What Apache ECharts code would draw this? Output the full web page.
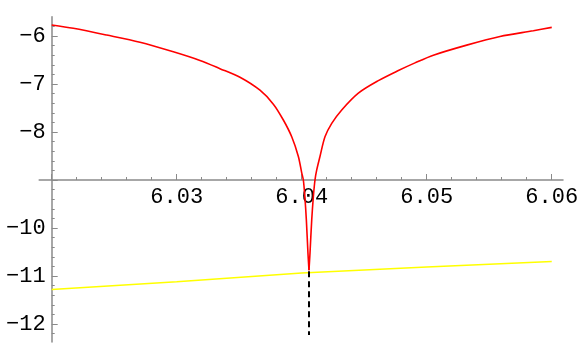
<!DOCTYPE html>
<html>
<head>
<meta charset="utf-8">
<script src="https://cdn.jsdelivr.net/npm/echarts@6/dist/echarts.min.js"></script>
<style>
  html, body { margin: 0; padding: 0; background: #fff; }
  #chart { width: 582px; height: 360px; }
</style>
</head>
<body>
<div id="chart"></div>
<script>
// red curve (left branch down to the dip, right branch up from it)
const redLeftX = [6.02000, 6.02173, 6.02440, 6.02706, 6.02973, 6.03186, 6.03346, 6.03506, 6.03666, 6.03773,
                  6.03853, 6.03920, 6.03973, 6.04000, 6.04013, 6.04025, 6.04037, 6.04050, 6.04058];
const redLeftY = [-5.77, -5.84, -5.98, -6.13, -6.33, -6.51, -6.68, -6.86, -7.13, -7.42,
                  -7.75, -8.10, -8.51, -8.85, -9.00, -9.35, -9.83, -10.53, -10.88];
const redRightX = [6.04058, 6.04066, 6.04080, 6.04093, 6.04106, 6.04120, 6.04146, 6.04186, 6.04240, 6.04320, 6.04453,
                   6.04613, 6.04773, 6.04906, 6.05053, 6.05320, 6.05586, 6.05853, 6.06000];
const redRightY = [-10.88, -10.53, -9.83, -9.35, -9.00, -8.79, -8.51, -8.10, -7.82, -7.54, -7.19,
                   -6.93, -6.72, -6.56, -6.40, -6.19, -6.01, -5.89, -5.82];
// yellow line
const yellowX = [6.02, 6.03, 6.04, 6.05, 6.06];
const yellowY = [-11.28, -11.12, -10.94, -10.81, -10.70];
// black dashed drop line
const dashX = [6.04058, 6.04058];
const dashY = [-10.90, -12.23];

// ticks
const xMajor = [6.02, 6.03, 6.04, 6.05, 6.06];
const xLabels = [6.03, 6.04, 6.05, 6.06];
const xMinor = [6.022, 6.024, 6.026, 6.028, 6.032, 6.034, 6.036, 6.038, 6.042, 6.044, 6.046, 6.048,
                6.052, 6.054, 6.056, 6.058];
const yMajor = [-6, -7, -8, -9, -10, -11, -12];
const yLabels = [-6, -7, -8, -10, -11, -12];
const yMinor = [-5.8, -6.2, -6.4, -6.6, -6.8, -7.2, -7.4, -7.6, -7.8, -8.2, -8.4, -8.6, -8.8,
                -9.2, -9.4, -9.6, -9.8, -10.2, -10.4, -10.6, -10.8, -11.2, -11.4, -11.6, -11.8, -12.2];

const pair = (xs, ys) => xs.map((x, i) => [x, ys[i]]);
const axisGray = '#8a8a8a';
const labelFont = { fontFamily: 'Liberation Mono', fontSize: 22, color: '#000' };

const xMin = 6.019, xMax = 6.0609;
const yMin = -12.375, yMax = -5.6;

const redLine = { color: '#ff0000', width: 1.6 };

const option = {
    animation: false,
    grid: { left: 39.2, right: 19, top: 16.8, bottom: 18, containLabel: false, outerBoundsMode: 'none' },
    xAxis: [
        {
            type: 'value', min: xMin, max: xMax, position: 'bottom', offset: -162,
            splitLine: { show: false },
            axisLine: { show: true, lineStyle: { color: axisGray, width: 1.5 } },
            axisTick: { show: true, inside: true, length: 6, customValues: xMajor, lineStyle: { color: axisGray, width: 1 } },
            axisLabel: Object.assign({ customValues: xLabels, margin: 6, formatter: v => v.toFixed(2) }, labelFont)
        },
        {
            type: 'value', min: xMin, max: xMax, position: 'bottom', offset: -162,
            splitLine: { show: false },
            axisLine: { show: false },
            axisTick: { show: true, inside: true, length: 3, customValues: xMinor, lineStyle: { color: axisGray, width: 1 } },
            axisLabel: { show: false }
        }
    ],
    yAxis: [
        {
            type: 'value', min: yMin, max: yMax, position: 'left', offset: -12.5,
            splitLine: { show: false },
            axisLine: { show: true, lineStyle: { color: axisGray, width: 1.5 } },
            axisTick: { show: true, inside: true, length: 6, customValues: yMajor, lineStyle: { color: axisGray, width: 1 } },
            axisLabel: Object.assign({ customValues: yLabels, margin: 6, formatter: v => '\u2212' + Math.abs(v) }, labelFont)
        },
        {
            type: 'value', min: yMin, max: yMax, position: 'left', offset: -12.5,
            splitLine: { show: false },
            axisLine: { show: false },
            axisTick: { show: true, inside: true, length: 3, customValues: yMinor, lineStyle: { color: axisGray, width: 1 } },
            axisLabel: { show: false }
        }
    ],
    series: [
        {
            type: 'line', data: pair(yellowX, yellowY), showSymbol: false,
            lineStyle: { color: '#ffff00', width: 1.5 }
        },
        {
            type: 'line', data: pair(dashX, dashY), showSymbol: false,
            lineStyle: { color: '#000', width: 2, type: [6, 4] }
        },
        {
            type: 'line', data: pair(redLeftX, redLeftY), showSymbol: false, smooth: 0.3,
            lineStyle: redLine
        },
        {
            type: 'line', data: pair(redRightX, redRightY), showSymbol: false, smooth: 0.3,
            lineStyle: redLine
        }
    ]
};

const myChart = echarts.init(document.getElementById('chart'));
myChart.setOption(option);
</script>
</body>
</html>
